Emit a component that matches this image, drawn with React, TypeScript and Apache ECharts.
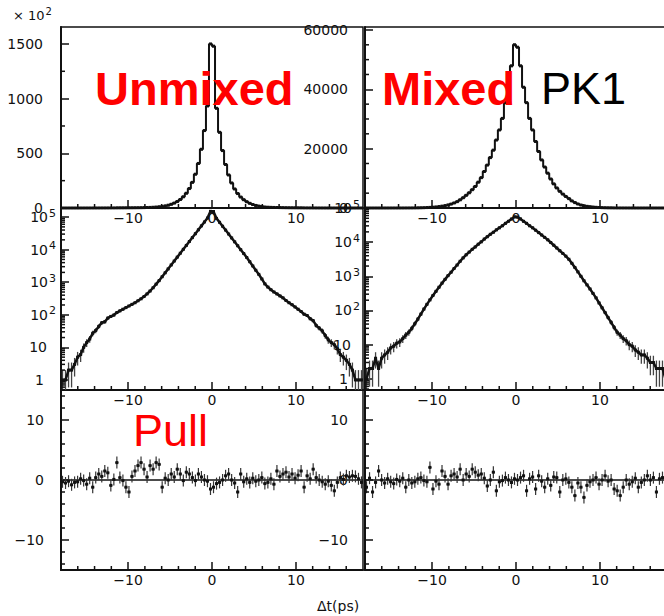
import React, { useEffect, useRef } from 'react';
import * as echarts from 'echarts';

// ---- data ----
const binWidth = 0.36;
const binStart = -18;
const binCenters: number[] = Array.from({ length: 100 }, (_, i) => +(binStart + binWidth * (i + 0.5)).toFixed(2));

const unmixedCounts = [
  1, 1, 2, 2, 3, 5, 6, 10, 14, 18, 27, 33, 44, 57, 61, 79, 89, 98, 117, 132,
  148, 166, 186, 209, 234, 269, 309, 363, 437, 537, 676, 871, 1122, 1479, 1950, 2570, 3390, 4470, 5890, 7760,
  10230, 13490, 17780, 23440, 30900, 40740, 53700, 70800, 93300, 150000,
  148000, 91200, 69200, 52500, 39800, 30200, 22900, 17400, 13200, 10000, 7590, 5750, 4270, 3160, 2340, 1740,
  1260, 890, 710, 589, 501, 437, 380, 331, 275, 234, 204, 174, 148, 126, 104, 95, 76, 66, 47, 39, 32, 23, 17,
  14, 12, 9, 6, 5, 4, 3, 2, 1, 1, 1,
];

const mixedCounts = [
  1, 2, 2, 4, 2, 4, 5, 6, 8, 9, 11, 12, 15, 19, 23, 30, 41, 56, 78, 110,
  151, 204, 275, 363, 479, 631, 813, 1047, 1318, 1698, 2138, 2754, 3467, 4266, 5129, 6166, 7244, 8710, 10230, 12300,
  14450, 16980, 19500, 22900, 26300, 30200, 35500, 40700, 47900, 55000,
  54200, 47900, 40700, 35500, 30200, 26300, 22400, 19050, 16200, 13800, 11750, 9770, 8130, 6760, 5620, 4680,
  3890, 3160, 2400, 1820, 1350, 1000, 741, 562, 427, 316, 234, 166, 120, 87, 62, 45, 32, 23, 19, 15, 13, 10, 9,
  7, 6, 5, 5, 4, 3, 3, 2, 2, 2, 1,
];

const unmixedPull = [
  -0.3, -0.5, -0.2, -0.8, -0.4, -0.3, 0.2, -0.1, -0.7, 0.3, -1.2, 0.4, 1.0, 0.6, 1.5, 1.2, -0.9, 0.1, 2.9, 0.4,
  -0.1, -1.2, -2.0, 0.6, 1.5, 2.4, 2.9, 1.8, 0.5, 2.4, 1.8, 2.9, 2.6, -1.2, 0.3, 0.0, 1.0, 0.5, 1.8, 1.0,
  -0.1, 1.3, 1.0, 0.4, -0.1, 1.0, 0.5, 0.0, -0.2, -1.5, -1.2, -0.6, -0.4, 0.0, 0.7, 1.0, 0.0, -0.5, -2.0, 1.0,
  -0.3, 0.2, -0.4, 0.3, -0.2, 0.0, 0.4, -0.6, -0.4, 0.2, -0.7, 1.5, 0.6, 1.0, 1.3, 0.5, 1.0, 0.3, 0.8, 1.5,
  -1.2, 0.7, 0.2, 1.8, 0.4, 0.0, -0.3, -0.7, -0.2, -0.9, -1.8, -0.4, 0.4, 0.1, 0.7, 0.5, 0.7, 0.6, 0.2, -0.4,
];

const mixedPull = [
  -1.2, 0.3, -2.0, -0.4, 1.5, 0.0, -0.5, 0.2, -0.3, -0.6, 0.1, -0.2, 0.3, -1.2, 0.0, -0.5, -0.3, 0.2, 0.4, -0.1,
  -0.3, 2.1, -1.5, -0.2, -0.7, 1.5, 0.6, -0.7, 0.7, 1.0, 0.5, 1.8, 0.0, 1.0, 0.6, 1.8, 1.3, 0.8, 1.0, 0.3,
  -1.0, 0.0, 1.3, -1.8, -0.3, -0.1, 0.4, 0.0, -0.4, 0.2, 0.0, 0.4, 0.7, -1.8, 0.2, 0.5, -1.5, 0.7, -0.2, -1.2,
  0.2, -0.9, 0.5, 0.4, -2.0, 0.0, 0.2, -0.4, -1.2, -2.6, -0.5, -1.2, -2.9, -0.9, -0.3, 0.0, 0.4, -0.7, 0.0, 0.7,
  -0.2, 0.0, -1.5, -1.8, -2.6, -1.2, 0.0, -0.7, -0.3, 0.3, -1.2, -0.4, 0.0, 0.7, 0.0, 0.4, -2.0, 0.2, 0.4, 0.1,
];

const xMinorTicks = [-16, -14, -12, -8, -6, -4, -2, 2, 4, 6, 8, 12, 14, 16];
const topLeftMinorTicks = [250, 750, 1250];
const topRightMinorTicks = [5000, 10000, 15000, 25000, 30000, 35000, 45000, 50000, 55000];
const pullMinorTicks = [-14, -12, -8, -6, -4, -2, 2, 4, 6, 8, 12, 14];
const logMantissas = [2, 3, 4, 5, 6, 7, 8, 9];
const logDecades = [-1, 0, 1, 2, 3, 4, 5];

// ---- styling ----
const FONT = 'DejaVu Sans';
const TITLE_FONT = '"Liberation Sans", Arial, sans-serif';
const INK = '#111';
const RED = '#ff0000';

const gridRects = [
  { left: 61, top: 27, width: 302, height: 181 },
  { left: 365, top: 27, width: 302, height: 181 },
  { left: 61, top: 208, width: 302, height: 182 },
  { left: 365, top: 208, width: 302, height: 182 },
  { left: 61, top: 390, width: 302, height: 180 },
  { left: 365, top: 390, width: 302, height: 180 },
];

const minus = (v: number) => String(v).replace('-', '\u2212');

const logLabel = (v: number) => {
  const l = Math.log10(v);
  const e = Math.round(l);
  if (Math.abs(l - e) > 0.01) return '';
  if (e === 0) return '{p1|1}';
  if (e === 1) return '{p10|10}';
  return `{b|10}{s|${e}}`;
};

const richLog = {
  p1: { fontFamily: FONT, fontSize: 14, color: INK, padding: [0, 12, 0, 0] },
  p10: { fontFamily: FONT, fontSize: 14, color: INK, padding: [0, 9, 0, 0] },
  b: { fontFamily: FONT, fontSize: 14, color: INK },
  s: { fontFamily: FONT, fontSize: 11, color: INK, padding: [0, 0, 8, 1] },
};

function logMinor(min: number, max: number) {
  const out: number[] = [];
  logDecades.forEach((d) => logMantissas.forEach((m) => {
    const v = m * Math.pow(10, d);
    if (v > min && v < max) out.push(v);
  }));
  return out;
}

function xAxisFor(gi: number) {
  return {
    type: 'value', gridIndex: gi, min: -18, max: 18, position: 'bottom',
    axisLine: { show: true, onZero: false, lineStyle: { color: INK, width: 2 } },
    axisTick: { show: true, inside: true, length: 8, lineStyle: { color: INK, width: 1.5 } },
    axisLabel: {
      show: true, margin: 3, fontFamily: FONT, fontSize: 14, color: INK,
      showMinLabel: false, showMaxLabel: false, formatter: (v: number) => minus(v),
    },
    splitLine: { show: false },
  };
}

const baseY = {
  position: 'left',
  axisLine: { show: true, onZero: false, lineStyle: { color: INK, width: 2 } },
  axisTick: { show: true, inside: true, length: 8, lineStyle: { color: INK, width: 1.5 } },
  splitLine: { show: false },
};

function minorTickSeries(gi: number, xs: number[], ys: number[], xRef: number, yRef: number) {
  return {
    type: 'custom', xAxisIndex: gi, yAxisIndex: gi, silent: true, z: 5,
    data: [...xs.map((v) => [v, yRef, 0]), ...ys.map((v) => [xRef, v, 1])],
    renderItem: (params: any, api: any) => {
      const cs = params.coordSys;
      const c = api.coord([api.value(0), api.value(1)]);
      if (api.value(2) === 0) {
        const yb = cs.y + cs.height;
        return { type: 'line', shape: { x1: c[0], y1: yb, x2: c[0], y2: yb - 4 }, style: { stroke: INK, lineWidth: 1.5 } };
      }
      return { type: 'line', shape: { x1: cs.x, y1: c[1], x2: cs.x + 4, y2: c[1] }, style: { stroke: INK, lineWidth: 1.5 } };
    },
  };
}

function stepSeries(gi: number, vals: number[], scale: number) {
  return {
    type: 'line', xAxisIndex: gi, yAxisIndex: gi, step: 'middle', silent: true,
    data: binCenters.map((t, i) => [t, vals[i] / scale]),
    symbol: 'rect', symbolSize: 3, showSymbol: true,
    lineStyle: { color: INK, width: 2 }, itemStyle: { color: INK }, z: 3,
  };
}

function logSeries(gi: number, vals: number[], yMin: number) {
  return [
    {
      type: 'custom', xAxisIndex: gi, yAxisIndex: gi, silent: true, clip: true, z: 2,
      data: binCenters.map((t, i) => [t, vals[i]]),
      renderItem: (params: any, api: any) => {
        const t = api.value(0);
        const n = api.value(1);
        const e = Math.sqrt(n);
        const lo = Math.max(n - e, yMin * 1.0001);
        const hi = n + e;
        const pc = api.coord([t, n]);
        const pl = api.coord([t, lo]);
        const ph = api.coord([t, hi]);
        const pa = api.coord([t - binWidth / 2, n]);
        const pb = api.coord([t + binWidth / 2, n]);
        return {
          type: 'group',
          children: [
            { type: 'line', shape: { x1: pl[0], y1: pl[1], x2: ph[0], y2: ph[1] }, style: { stroke: '#444', lineWidth: 1.3 } },
            { type: 'line', shape: { x1: pa[0], y1: pc[1], x2: pb[0], y2: pc[1] }, style: { stroke: INK, lineWidth: 1 } },
            { type: 'rect', shape: { x: pc[0] - 1.5, y: pc[1] - 1.5, width: 3, height: 3 }, style: { fill: INK } },
          ],
        };
      },
    },
    {
      type: 'line', xAxisIndex: gi, yAxisIndex: gi, silent: true, z: 3,
      data: binCenters.map((t, i) => [t, vals[i]]),
      symbol: 'none', lineStyle: { color: INK, width: 2.5 },
    },
  ];
}

function pullSeries(gi: number, vals: number[]) {
  return [
    {
      type: 'line', xAxisIndex: gi, yAxisIndex: gi, silent: true, z: 2,
      data: [[-18, 0], [18, 0]], symbol: 'none', lineStyle: { color: INK, width: 1.5 },
    },
    {
      type: 'custom', xAxisIndex: gi, yAxisIndex: gi, silent: true, clip: true, z: 3,
      data: binCenters.map((t, i) => [t, vals[i]]),
      renderItem: (params: any, api: any) => {
        const t = api.value(0);
        const p = api.value(1);
        const pc = api.coord([t, p]);
        const pl = api.coord([t, p - 1]);
        const ph = api.coord([t, p + 1]);
        const pa = api.coord([t - binWidth / 2, p]);
        const pb = api.coord([t + binWidth / 2, p]);
        return {
          type: 'group',
          children: [
            { type: 'line', shape: { x1: pl[0], y1: pl[1], x2: ph[0], y2: ph[1] }, style: { stroke: '#333', lineWidth: 1.2 } },
            { type: 'line', shape: { x1: pa[0], y1: pc[1], x2: pb[0], y2: pc[1] }, style: { stroke: '#333', lineWidth: 1.2 } },
            { type: 'rect', shape: { x: pc[0] - 1.5, y: pc[1] - 1.5, width: 3, height: 3 }, style: { fill: INK } },
          ],
        };
      },
    },
  ];
}

function buildOption() {
  const midLeftMin = 0.49, midLeftMax = 1.9e5;
  const midRightMin = 0.47, midRightMax = 1e5;
  const plainLabel = (margin: number) => ({
    margin, fontFamily: FONT, fontSize: 14, color: INK, showMaxLabel: false,
    formatter: (v: number) => minus(v),
  });

  const yAxes = [
    { ...baseY, type: 'value', gridIndex: 0, min: 0, max: 1655, interval: 500, axisLabel: plainLabel(18) },
    { ...baseY, type: 'value', gridIndex: 1, min: 0, max: 61000, interval: 20000, axisLabel: plainLabel(17) },
    {
      ...baseY, type: 'log', logBase: 10, gridIndex: 2, min: midLeftMin, max: midLeftMax,
      axisLabel: { margin: 5, showMinLabel: false, showMaxLabel: false, formatter: logLabel, rich: richLog },
    },
    {
      ...baseY, type: 'log', logBase: 10, gridIndex: 3, min: midRightMin, max: midRightMax,
      axisLabel: { margin: 5, showMinLabel: false, showMaxLabel: true, formatter: logLabel, rich: richLog },
    },
    {
      ...baseY, type: 'value', gridIndex: 4, min: -15, max: 15, splitNumber: 3,
      axisLabel: { ...plainLabel(17), showMinLabel: false },
    },
    {
      ...baseY, type: 'value', gridIndex: 5, min: -15, max: 15, splitNumber: 3,
      axisLabel: { ...plainLabel(17), showMinLabel: false },
    },
  ];

  const series: any[] = [
    stepSeries(0, unmixedCounts, 100),
    stepSeries(1, mixedCounts, 1),
    ...logSeries(2, unmixedCounts, midLeftMin),
    ...logSeries(3, mixedCounts, midRightMin),
    ...pullSeries(4, unmixedPull),
    ...pullSeries(5, mixedPull),
    minorTickSeries(0, xMinorTicks, topLeftMinorTicks, 0, 800),
    minorTickSeries(1, xMinorTicks, topRightMinorTicks, 0, 30000),
    minorTickSeries(2, xMinorTicks, logMinor(midLeftMin, midLeftMax), 0, 100),
    minorTickSeries(3, xMinorTicks, logMinor(midRightMin, midRightMax), 0, 100),
    minorTickSeries(4, xMinorTicks, pullMinorTicks, 0, 0),
    minorTickSeries(5, xMinorTicks, pullMinorTicks, 0, 0),
  ];

  return {
    animation: false,
    backgroundColor: '#ffffff',
    grid: gridRects.map((r) => ({
      ...r, show: true, borderColor: INK, borderWidth: 1.5, backgroundColor: 'transparent',
      containLabel: false, outerBoundsMode: 'none',
    })),
    xAxis: gridRects.map((_, i) => xAxisFor(i)),
    yAxis: yAxes,
    series,
    graphic: [
      {
        type: 'text', x: 13, y: 15, z: 10,
        style: {
          text: '{a|\u00d7 10}{s|2}', align: 'left', verticalAlign: 'middle',
          rich: {
            a: { fontFamily: FONT, fontSize: 13, fill: INK },
            s: { fontFamily: FONT, fontSize: 10, fill: INK, padding: [0, 0, 7, 1] },
          },
        },
      },
      { type: 'text', x: 95, y: 88, z: 10, style: { text: 'Unmixed', fill: RED, font: `bold 47px ${TITLE_FONT}`, align: 'left', verticalAlign: 'middle' } },
      { type: 'text', x: 382, y: 88, z: 10, style: { text: 'Mixed', fill: RED, font: `bold 47px ${TITLE_FONT}`, align: 'left', verticalAlign: 'middle' } },
      { type: 'text', x: 541, y: 88, z: 10, style: { text: 'PK1', fill: '#000', font: `45px ${TITLE_FONT}`, align: 'left', verticalAlign: 'middle' } },
      { type: 'text', x: 133, y: 430, z: 10, style: { text: 'Pull', fill: RED, font: `45px ${TITLE_FONT}`, align: 'left', verticalAlign: 'middle' } },
      { type: 'text', x: 317, y: 606, z: 10, style: { text: '\u0394t(ps)', fill: INK, font: `14px ${FONT}`, align: 'left', verticalAlign: 'middle' } },
    ],
  };
}

export default function App() {
  const ref = useRef<HTMLDivElement>(null);
  useEffect(() => {
    if (!ref.current) return;
    const chart = echarts.init(ref.current, undefined, { renderer: 'svg' });
    chart.setOption(buildOption() as any);
    return () => chart.dispose();
  }, []);
  return (
    <div
      ref={ref}
      style={{ position: 'fixed', left: 0, top: 0, width: 664, height: 616, background: '#fff' }}
    />
  );
}
